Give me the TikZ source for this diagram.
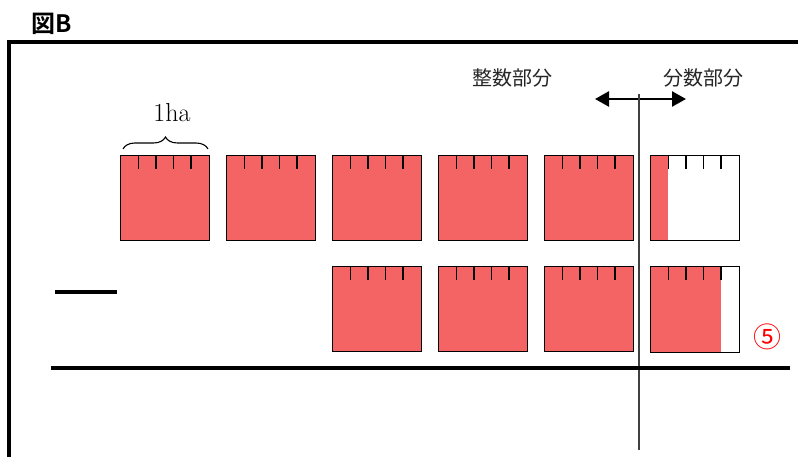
\documentclass[tikz,border=0pt]{standalone}
\usepackage{fontspec}
\newfontfamily\cjk{Noto Sans CJK JP}
\newfontfamily\cjkb{Noto Sans CJK JP Bold}
\usetikzlibrary{decorations.pathreplacing,arrows.meta}
\definecolor{hatch}{RGB}{245,100,100}
\tikzset{
  sq/.style={draw=black,line width=1.2pt},
  tick/.style={line width=1.2pt},
  thick line/.style={line width=4pt},
  lbl/.style={inner sep=0pt,font=\cjk\fontsize{20}{24}\selectfont,text=black!85},
}
\newcommand{\fullsq}[3]{% name, x, y
  \fill[hatch] (#2,#3) rectangle ++(89,85);
  \node[sq,minimum width=89pt,minimum height=85pt,inner sep=0pt,anchor=north west] (#1) at (#2,#3) {};
  \foreach \t in {18.5,36,53.5,71}{\draw[tick] (#2+\t,#3) -- ++(0,14);}
}
\begin{document}
\begin{tikzpicture}[x=1pt,y=-1pt]
\useasboundingbox (0,0) rectangle (798,457);
% title
\node[font=\cjkb\fontsize{24}{28}\selectfont,inner sep=0pt,anchor=west] (title) at (31,24) {図B};
% frame
\draw[line width=4pt] (9,457) -- (9,42) -- (798,42);
% labels
\node[lbl] (int) at (512,78) {整数部分};
\node[lbl] (frac) at (703,78) {分数部分};
% arrow
\coordinate (al) at (595,99);
\coordinate (ar) at (686,99);
\draw[line width=2.5pt,{Triangle[length=14pt,width=15pt]}-{Triangle[length=14pt,width=15pt]}] (al) -- (ar);
% squares row 1
\fullsq{a1}{120}{155}
\fullsq{a2}{226}{155}
\fullsq{a3}{332}{155}
\fullsq{a4}{438}{155}
\fullsq{a5}{544}{155}
\fill[hatch] (650,155) rectangle (668,240);
\node[sq,minimum width=89pt,minimum height=85pt,inner sep=0pt,anchor=north west] (a6) at (650,155) {};
\foreach \t in {18.5,36,53.5,71}{\draw[tick] (650+\t,155) -- ++(0,14);}
% squares row 2
\fullsq{b3}{332}{266}
\fullsq{b4}{438}{266}
\fullsq{b5}{544}{266}
\fill[hatch] (650,266) rectangle (721,352);
\node[sq,minimum width=89pt,minimum height=86pt,inner sep=0pt,anchor=north west] (b6) at (650,266) {};
\foreach \t in {18.5,36,53.5,71}{\draw[tick] (650+\t,266) -- ++(0,14);}
% brace and 1ha
\draw[line width=1.1pt,decorate,decoration={brace,amplitude=12pt}] (123,149) -- (208,149);
\node[font=\fontsize{26}{30}\selectfont,inner sep=0pt] (ha) at (172,113) {1ha};
% vertical separator
\coordinate (vt) at (639,94);
\coordinate (vb) at (639,450);
\draw[line width=1.5pt,black!75] (vt) -- (vb);
% lines
\coordinate (s1) at (55,292);
\coordinate (s2) at (117,292);
\draw[thick line] (s1) -- (s2);
\coordinate (h1) at (51,368);
\coordinate (h2) at (790,368);
\draw[thick line] (h1) -- (h2);
% circled 5
\node[font=\cjk\fontsize{28}{32}\selectfont,text=red,inner sep=0pt] (five) at (767,337) {⑤};
\end{tikzpicture}
\end{document}
